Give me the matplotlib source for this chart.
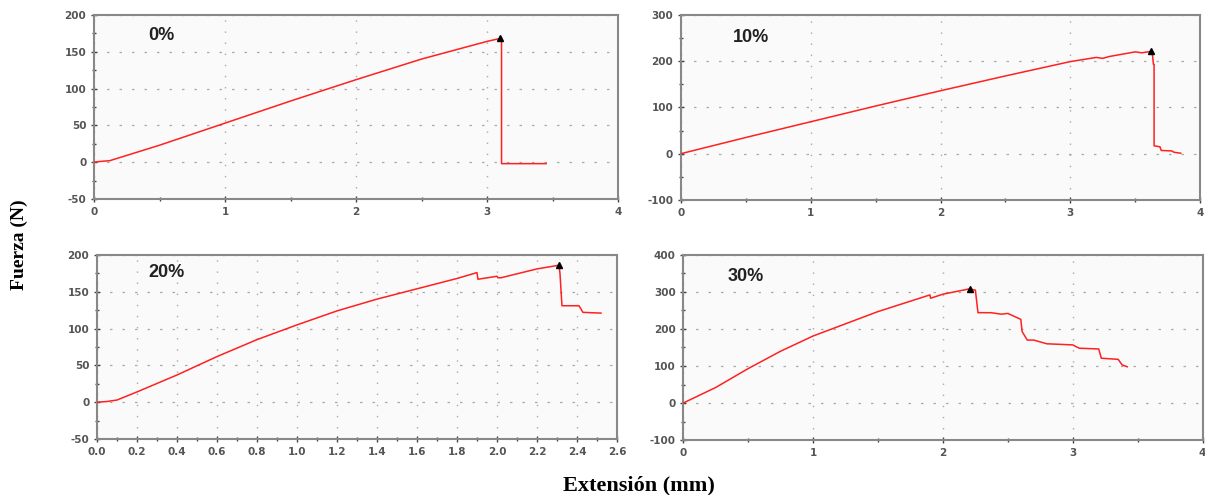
import numpy as np
import matplotlib.pyplot as plt
from matplotlib.ticker import MultipleLocator

plt.rcParams["axes.unicode_minus"] = False

# extension (mm) / force (N)
ext0 = [0, 0.05, 0.12, 0.5, 1.0, 1.5, 2.0, 2.5, 3.0, 3.1, 3.11, 3.11, 3.45]
force0 = [0, 1, 2, 23, 53, 83, 112, 140, 164, 168, 168, -2, -2]
peak0 = (3.1, 168)

ext10 = [0, 0.5, 1.0, 1.5, 2.0, 2.5, 3.0, 3.2, 3.25, 3.3, 3.5, 3.55, 3.62, 3.63,
         3.64, 3.645, 3.645, 3.69, 3.7, 3.78, 3.8, 3.85]
force10 = [0, 35, 69, 103, 136, 168, 199, 208, 206, 210, 220, 218, 221, 221,
           193, 193, 17, 15, 7, 6, 3, 1]
peak10 = (3.625, 221)

ext20 = [0, 0.05, 0.1, 0.2, 0.4, 0.6, 0.8, 1.0, 1.2, 1.4, 1.6, 1.8, 1.9, 1.905,
         2.0, 2.005, 2.02, 2.2, 2.31, 2.315, 2.325, 2.41, 2.43, 2.52]
force20 = [0, 1, 3, 14, 37, 62, 85, 105, 124, 140, 154, 168, 176, 167,
           171, 169, 169, 181, 186, 175, 131, 131, 122, 121]
peak20 = (2.31, 186)

ext30 = [0, 0.25, 0.5, 0.75, 1.0, 1.5, 1.9, 1.905, 2.0, 2.2, 2.25, 2.27, 2.37,
         2.45, 2.5, 2.6, 2.61, 2.65, 2.7, 2.8, 3.0, 3.05, 3.2, 3.22, 3.35, 3.38, 3.42]
force30 = [0, 42, 93, 140, 181, 247, 292, 283, 294, 308, 305, 244, 244,
           240, 242, 226, 193, 170, 170, 160, 157, 148, 146, 121, 118, 103, 98]
peak30 = (2.21, 308)

labels = ["0%", "10%", "20%", "30%"]

# (left, bottom, width, height) in figure fraction
panels = [
    dict(pos=[0.078, 0.598, 0.435, 0.372], x=ext0, y=force0, peak=peak0,
         xlim=(0, 4), ylim=(-50, 200), xmaj=1, xmin=0.5, ymaj=50, ymin=25,
         lab=(0.103, 0.89), xfmt="{:.0f}"),
    dict(pos=[0.565, 0.596, 0.431, 0.374], x=ext10, y=force10, peak=peak10,
         xlim=(0, 4), ylim=(-100, 300), xmaj=1, xmin=0.5, ymaj=100, ymin=50,
         lab=(0.10, 0.875), xfmt="{:.0f}"),
    dict(pos=[0.0805, 0.113, 0.4315, 0.372], x=ext20, y=force20, peak=peak20,
         xlim=(0, 2.6), ylim=(-50, 200), xmaj=0.2, xmin=0.1, ymaj=50, ymin=25,
         lab=(0.098, 0.905), xfmt="{:.1f}"),
    dict(pos=[0.567, 0.111, 0.431, 0.374], x=ext30, y=force30, peak=peak30,
         xlim=(0, 4), ylim=(-100, 400), xmaj=1, xmin=0.5, ymaj=100, ymin=50,
         lab=(0.085, 0.886), xfmt="{:.0f}"),
]

fig = plt.figure(figsize=(12.05, 4.95), dpi=100)
fig.patch.set_facecolor("white")

for p, lab in zip(panels, labels):
    ax = fig.add_axes(p["pos"])
    ax.set_facecolor("#fafafa")
    ax.plot(p["x"], p["y"], color="#ff2020", lw=1.1, zorder=3)
    ax.plot(*p["peak"], marker="^", color="black", ms=5, zorder=4)
    ax.set_xlim(*p["xlim"])
    ax.set_ylim(*p["ylim"])

    ax.xaxis.set_major_locator(MultipleLocator(p["xmaj"]))
    ax.xaxis.set_minor_locator(MultipleLocator(p["xmin"]))
    ax.yaxis.set_major_locator(MultipleLocator(p["ymaj"]))
    ax.yaxis.set_minor_locator(MultipleLocator(p["ymin"]))
    fmt = p["xfmt"]
    ax.xaxis.set_major_formatter(plt.FuncFormatter(lambda v, _, f=fmt: f.format(v)))

    # dashed horizontal / dotted vertical grid like the tester software
    ax.grid(axis="y", which="major", color="#aaaaaa", ls=(0, (2, 8)), lw=0.9)
    ax.grid(axis="x", which="major", color="#aaaaaa", ls=(0, (1, 7)), lw=1.0)

    ax.tick_params(which="both", direction="inout", color="#444444",
                   labelsize=7.5, labelcolor="#555555", width=1)
    ax.tick_params(which="major", length=4)
    ax.tick_params(which="minor", length=3)
    for t in ax.get_xticklabels() + ax.get_yticklabels():
        t.set_fontweight("bold")
    for s in ax.spines.values():
        s.set_color("#888888")
        s.set_linewidth(1.5)

    ax.text(p["lab"][0], p["lab"][1], lab, transform=ax.transAxes,
            fontsize=13, fontweight="bold", family="Liberation Sans",
            color="#222222", va="center", ha="left")

fig.text(0.016, 0.505, "Fuerza (N)", rotation=90, ha="center", va="center",
         family="Liberation Serif", fontweight="bold", fontsize=14)
fig.text(0.53, 0.02, "Extensión (mm)", ha="center", va="center",
         family="Liberation Serif", fontweight="bold", fontsize=16)

plt.savefig("out.png", dpi=100)
